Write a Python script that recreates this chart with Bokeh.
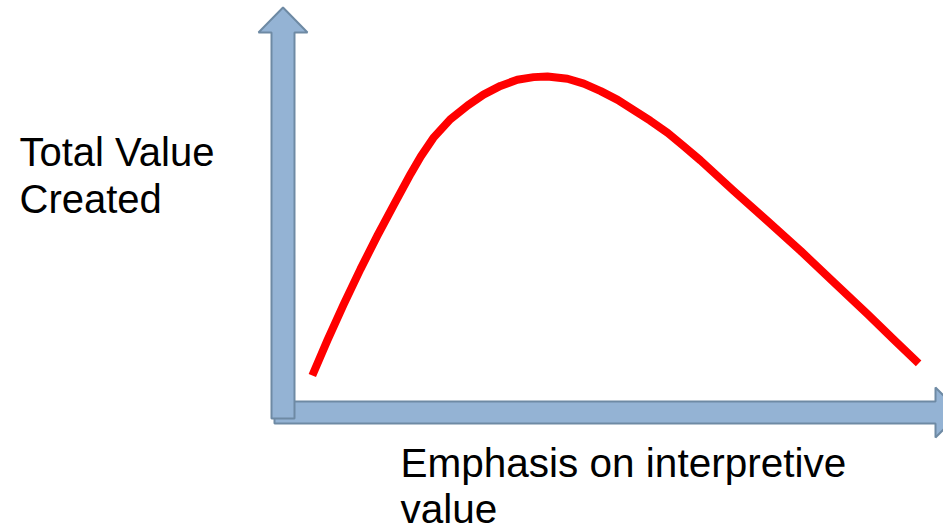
from bokeh.plotting import figure
from bokeh.models import Range1d, Label
from bokeh.embed import file_html
from bokeh.resources import INLINE

# Concept curve (0-100 scales on both axes)
emphasis = [3.0, 5.4, 8.0, 10.7, 13.4, 16.0, 18.7, 20.3, 22.3, 25.0, 27.8,
            30.3, 33.0, 35.7, 38.3, 40.5, 43.7, 46.3, 49.0, 51.7, 54.2, 56.9,
            59.7, 62.2, 64.9, 70.2, 75.6, 80.9, 86.1, 91.6, 95.7, 99.7]
total_value = [7.7, 18.5, 29.6, 40.5, 50.8, 60.2, 69.8, 75.1, 80.8, 86.5, 90.8,
               94.1, 96.8, 98.7, 99.5, 99.7, 99.0, 97.5, 95.2, 92.5, 89.4, 86.1,
               82.3, 78.3, 73.9, 64.5, 55.2, 46.0, 36.5, 26.5, 18.8, 11.4]

y_label_lines = ["Total Value", "Created"]
x_label_lines = ["Emphasis on interpretive", "value"]

W, H = 943, 531
# pixel layout of the axes origin and scale
OX, OY = 293.0, 400.0
XS, YS = 6.27, 3.25


def X(sx):
    return (sx - OX) / XS


def Y(sy):
    return (OY - sy) / YS


p = figure(width=W, height=H, x_range=Range1d(X(0), X(W)),
           y_range=Range1d(Y(H), Y(0)), output_backend="svg",
           toolbar_location=None, min_border=0, x_axis_type=None,
           y_axis_type=None)
p.grid.visible = False
p.outline_line_color = None
p.background_fill_color = "white"
p.border_fill_color = "white"

fill = "#94B3D4"
edge = "#6E8AA4"

# horizontal axis arrow
hx = [274, 935, 935, 960, 935, 935, 274]
hy = [401, 401, 387, 412, 437, 423, 423]
p.patch([X(v) for v in hx], [Y(v) for v in hy], fill_color=fill,
        line_color=edge, line_width=2)

# vertical axis arrow
vx = [271, 271, 258, 282.5, 307, 294, 294]
vy = [418, 32, 32, 7, 32, 32, 418]
p.patch([X(v) for v in vx], [Y(v) for v in vy], fill_color=fill,
        line_color=edge, line_width=2)

p.line(emphasis, total_value, line_color="#FF0000", line_width=8,
       line_join="round", line_cap="butt")

font = "Liberation Sans"
for i, t in enumerate(y_label_lines):
    p.add_layout(Label(x=19, y=H - (151 + 47 * i), x_units="screen",
                       y_units="screen", text=t, text_font=font,
                       text_font_size="40px", text_color="black",
                       text_baseline="alphabetic", text_align="left"))
for i, t in enumerate(x_label_lines):
    p.add_layout(Label(x=400, y=H - (462 + 46 * i), x_units="screen",
                       y_units="screen", text=t, text_font=font,
                       text_font_size="40.5px", text_color="black",
                       text_baseline="alphabetic", text_align="left"))

open("out.html", "w").write(file_html(p, INLINE))
